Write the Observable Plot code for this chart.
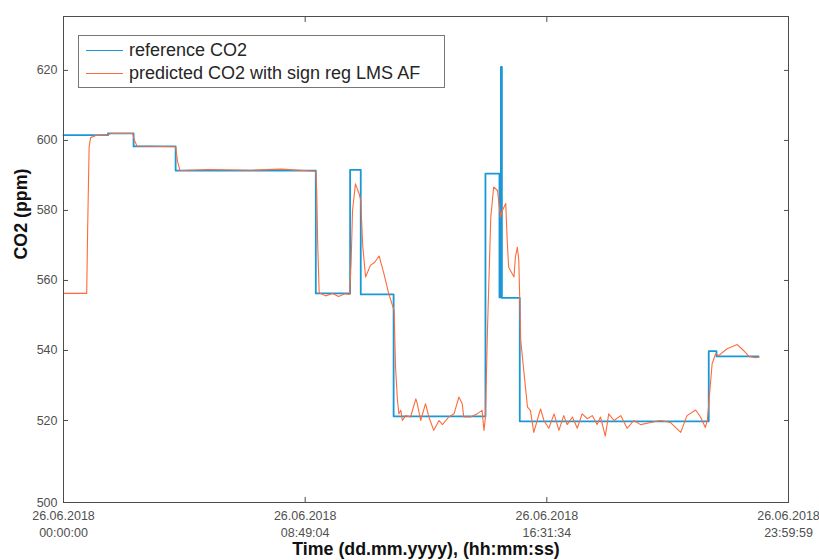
<!DOCTYPE html>
<html><head><meta charset="utf-8">
<script src="https://cdn.jsdelivr.net/npm/d3@7"></script>
<script src="https://cdn.jsdelivr.net/npm/@observablehq/plot@0.6"></script>
<style>
body{margin:0;background:#fff;}
#wrap{position:relative;width:819px;height:560px;font-family:"Liberation Sans",Arial,sans-serif;}
#wrap svg{display:block;}
#legend{position:absolute;left:78px;top:35px;width:367px;height:53px;border:1px solid #777;background:#fff;box-sizing:border-box;}
.row{position:absolute;left:0;height:22px;display:flex;align-items:center;font-size:18px;color:#262626;white-space:nowrap;}
.sw{width:37px;height:0;border-top:1.5px solid;margin-left:7px;margin-right:6px;}
</style></head>
<body><div id="wrap"><div id="legend"></div></div>
<script>
const xTickValues = [0, 500, 1000, 1500];
const xTickLabels = ["26.06.2018\n00:00:00", "26.06.2018\n08:49:04", "26.06.2018\n16:31:34", "26.06.2018\n23:59:59"];
const yTickValues = [500, 520, 540, 560, 580, 600, 620];
const seriesNames = ["reference CO2", "predicted CO2 with sign reg LMS AF"];
const seriesColors = ["#1a98d6", "#ff6a3a"];
const xTitle = "Time (dd.mm.yyyy), (hh:mm:ss)";
const yTitle = "CO2 (ppm)";

// reference CO2 (step series): sample index -> ppm
const refIndex = [0, 92, 145, 232, 522, 593, 615, 683, 873, 902, 905, 907, 944, 1335, 1351, 1438];
const refCO2   = [601.5, 602, 598.3, 591.4, 556.3, 591.6, 556, 521.2, 590.5, 555.2, 621, 555, 519.8, 539.8, 538.3, 538.3];

// predicted CO2 (sign-regressor LMS adaptive filter)
const predIndex = [0,48,50,53,56,67,92,98,143,147,152,232,236,241,300,388,450,522,524,526,529,542,557,569,582,592,595,598,604,611,615,619,625,635,644,653,663,673,684,687,691,694,698,701,708,718,729,732,739,749,756,766,777,784,797,808,818,825,828,842,856,866,870,873,877,884,890,898,904,908,915,918,921,932,935,939,942,946,953,960,966,973,980,987,994,1004,1015,1025,1035,1042,1053,1063,1073,1084,1094,1104,1111,1121,1128,1139,1153,1166,1180,1194,1215,1235,1256,1277,1290,1308,1318,1328,1332,1335,1342,1349,1356,1373,1394,1407,1418,1432,1439];
const predCO2 = [556.3,556.3,575,598,600.8,601.4,601.6,602,602,600,598.4,598.2,594,591.4,591.7,591.5,591.8,591.2,585,570,556.5,555.6,556.3,555.4,556.2,556,565,580,587.6,585,583,570,561,564.3,565.2,567,561.9,556.2,551.4,535.2,525.7,521.9,522.9,520,521.4,521,526.2,524.8,520,524.8,521,517.6,520,519,521,521.9,526.7,524.8,521,521,521.9,522.9,517.6,521,545,578,586.7,585.7,578.1,580,582,571.4,563.8,561,566.7,569.5,565.7,542.9,533.3,523.8,522.9,517.1,520,523.3,520,518.1,521.9,517.6,521.4,519,521,518.1,521.9,520.5,521.4,519,521,516.2,521.9,520,521.4,518.1,520,519,519.5,520,519.5,517.1,521.4,523,521,518.3,520,524.8,536.2,539,538.6,540.5,541.7,540,538.3,537.9,538.1];

const refRows = refIndex.map((t, i) => ({t, v: refCO2[i]}));
const predRows = predIndex.map((t, i) => ({t, v: predCO2[i]}));

const chart = Plot.plot({
  width: 819, height: 560,
  marginLeft: 63, marginRight: 31, marginTop: 16, marginBottom: 58,
  style: {fontFamily: "Liberation Sans, Arial, sans-serif", fontSize: "12.5px", color: "#505050", background: "#fff"},
  x: {domain: [0, 1500], axis: null},
  y: {type: "linear", domain: [500, 520, 635.4], range: [502, 420, 16], axis: null},
  marks: [
    Plot.line(refRows, {x: "t", y: "v", curve: "step-after", stroke: seriesColors[0], strokeWidth: 1.8}),
    Plot.line(predRows, {x: "t", y: "v", stroke: seriesColors[1], strokeWidth: 1.1}),
    Plot.frame({stroke: "#4d4d4d"}),
    Plot.axisY(yTickValues, {anchor: "left", tickSize: 0, tickPadding: 6, label: null}),
    Plot.axisY(yTickValues, {anchor: "left", tickSize: 5, dx: 5, fill: "none", stroke: "#4d4d4d", label: null}),
    Plot.axisY(yTickValues, {anchor: "right", tickSize: 5, dx: -5, fill: "none", stroke: "#4d4d4d", label: null}),
    Plot.axisX(xTickValues, {anchor: "bottom", tickSize: 0, tickPadding: 5, lineHeight: 1.36,
      tickFormat: d => xTickLabels[xTickValues.indexOf(d)], label: null}),
    Plot.axisX(xTickValues, {anchor: "bottom", tickSize: 5, dy: -5, fill: "none", stroke: "#4d4d4d", label: null}),
    Plot.axisX(xTickValues, {anchor: "top", tickSize: 5, dy: 5, fill: "none", stroke: "#4d4d4d", label: null}),
    Plot.text([xTitle], {text: d => d, frameAnchor: "bottom", dy: 52, fontWeight: "bold", fontSize: 17.8, fill: "#111"}),
    Plot.text([yTitle], {text: d => d, frameAnchor: "left", rotate: -90, dx: -42, fontWeight: "bold", fontSize: 17.8, fill: "#111"})
  ]
});
const wrap = document.getElementById("wrap");
wrap.insertBefore(chart, wrap.firstChild);

const legend = document.getElementById("legend");
seriesNames.forEach((name, i) => {
  const row = document.createElement("div");
  row.className = "row";
  row.style.top = (i === 0 ? 3 : 26) + "px";
  const sw = document.createElement("span");
  sw.className = "sw";
  sw.style.borderTopColor = seriesColors[i];
  const tx = document.createElement("span");
  tx.textContent = name;
  row.appendChild(sw); row.appendChild(tx);
  legend.appendChild(row);
});
</script>
</body></html>
